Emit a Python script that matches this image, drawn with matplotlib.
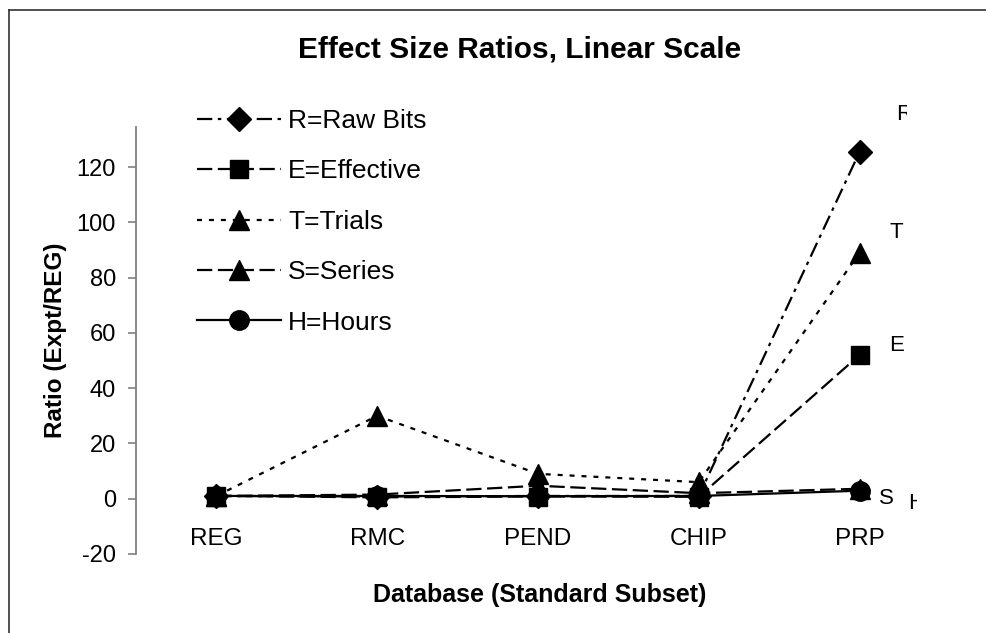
import numpy as np
import matplotlib
matplotlib.use('Agg')
import matplotlib.pyplot as plt
from matplotlib.lines import Line2D
from matplotlib.transforms import Bbox

plt.rcParams['font.family'] = ['Liberation Sans', 'DejaVu Sans']
plt.rcParams['lines.scale_dashes'] = False
plt.rcParams['axes.unicode_minus'] = False

# data
databases = ['REG', 'RMC', 'PEND', 'CHIP', 'PRP']
raw_bits = [1, 0.8, 1, 1, 125.5]
effective = [1, 0.5, 0.8, 0.7, 52]
trials = [1, 30, 9, 6, 89]
series = [1, 1.5, 4.7, 2, 3.6]
hours = [1, 1, 0.9, 1, 2.9]
series_names = ['R=Raw Bits', 'E=Effective', 'T=Trials', 'S=Series', 'H=Hours']
end_tags = ['R', 'E', 'T', 'S', 'H']
y_ticks = [-20, 0, 20, 40, 60, 80, 100, 120]

W, H = 987, 633
fig = plt.figure(figsize=(W / 100, H / 100), dpi=100)
ax = fig.add_axes([136 / W, 1 - 554 / H, 804 / W, (554 - 126.7) / H])

x = np.arange(len(databases))
values = [raw_bits, effective, trials, series, hours]
# marker, size, dash pattern (points)
styles = [('D', 12, (11, 4, 2.5, 4)),
          ('s', 13.5, (11, 4)),
          ('^', 15, (3.6, 5)),
          ('^', 15, (11, 4)),
          ('o', 14, None)]

lines = []
for vals, name, (mk, ms, dash) in zip(values, series_names, styles):
    ln, = ax.plot(x, vals, color='black', lw=1.6, marker=mk, markersize=ms,
                  markerfacecolor='black', markeredgecolor='black', label=name,
                  clip_on=False)
    if dash is not None:
        ln.set_dashes(dash)
    lines.append(ln)

ax.set_xlim(-0.5, 4.5)
ax.set_ylim(-20, 134.6)
ax.set_yticks(y_ticks)
ax.set_xticks(x)
ax.set_xticklabels(databases)

for s in ['top', 'right']:
    ax.spines[s].set_visible(False)
ax.spines['bottom'].set_position(('data', 0))
ax.spines['bottom'].set_visible(False)
ax.spines['left'].set_color('#808080')
ax.spines['left'].set_linewidth(1.3)
ax.tick_params(axis='y', direction='out', length=5.5, width=1.2, color='#808080',
               labelsize=17, pad=9)
ax.tick_params(axis='x', length=0, labelsize=17.5, pad=21)

# end-of-line tags (offsets in pixels from the PRP point)
offsets = {'R': (37, 37), 'E': (30, 9), 'T': (30, 20), 'S': (19, -10), 'H': (49, -13)}
clip_right = {'R': 907, 'H': 917}
for tag, vals in zip(end_tags, values):
    t = ax.annotate(tag, xy=(4, vals[-1]), xytext=offsets[tag],
                    textcoords='offset pixels', fontsize=16,
                    ha='left', va='center', annotation_clip=False)
    if tag in clip_right:
        t.set_clip_box(Bbox([[0, 0], [clip_right[tag], H]]))
        t.set_clip_on(True)

ax.legend(handles=lines, loc='upper left', bbox_to_anchor=(197 / W, 1 - 109 / H),
          bbox_transform=fig.transFigure, frameon=False, fontsize=19,
          handlelength=3.2, handletextpad=0.25, labelspacing=1.0,
          borderpad=0, borderaxespad=0, numpoints=1)

fig.text(520 / W, 1 - 58 / H, 'Effect Size Ratios, Linear Scale', fontsize=21.5,
         fontweight='bold', ha='center', va='baseline')
fig.text(540 / W, 1 - 595 / H, 'Database (Standard Subset)', fontsize=18,
         fontweight='bold', ha='center', va='center')
fig.text(56 / W, 1 - 340 / H, 'Ratio (Expt/REG)', fontsize=17.5,
         fontweight='bold', ha='center', va='center', rotation=90)

# outer chart frame (left and top edges visible)
fig.add_artist(Line2D([9 / W, 9 / W], [0, 1 - 10 / H], transform=fig.transFigure,
                      color='#333333', lw=1.2))
fig.add_artist(Line2D([9 / W, 1], [1 - 10 / H, 1 - 10 / H], transform=fig.transFigure,
                      color='#333333', lw=1.2))

fig.savefig('out.png', dpi=100)
